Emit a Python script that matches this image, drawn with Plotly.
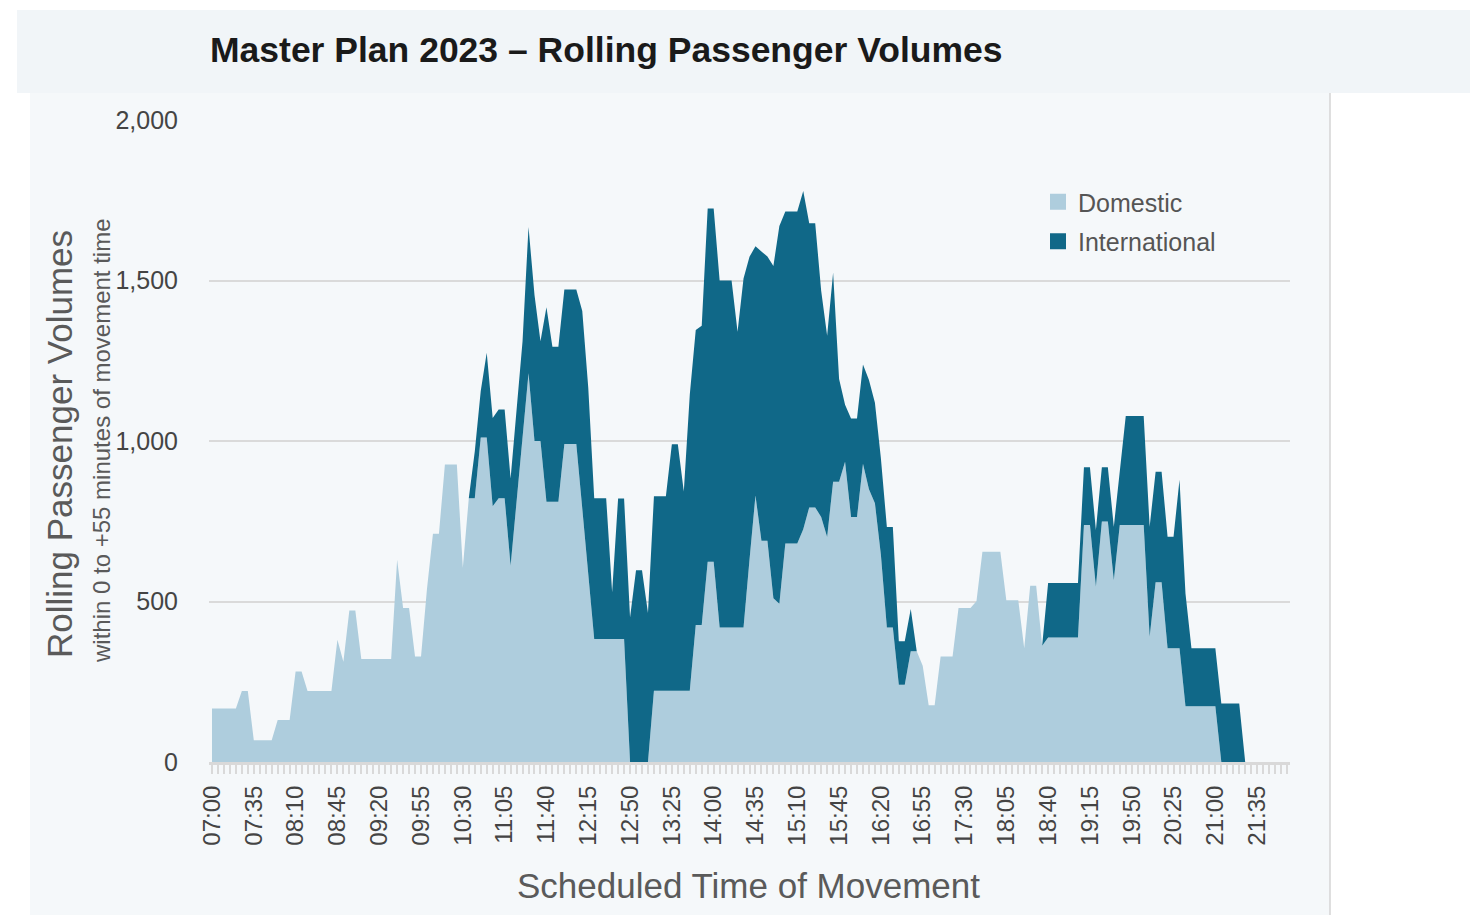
import plotly.graph_objects as go

# ---------------- data ----------------
times = [f"{h:02d}:{m:02d}" for h in range(7, 23) for m in range(0, 60, 5)][:181]  # 07:00 .. 22:00

domestic = [
    167, 167, 167, 167, 167, 221, 221, 68, 68, 68,            # 0-9
    68, 131, 131, 131, 282, 282, 221, 221, 221, 221,          # 10-19
    221, 381, 312, 472, 472, 321, 321, 321, 321, 321,         # 20-29
    321, 630, 480, 480, 329, 329, 540, 711, 711, 927,         # 30-39
    927, 927, 605, 822, 822, 1011, 1011, 797, 822, 822,       # 40-49
    611, 811, 1011, 1211, 1000, 1000, 811, 811, 811, 991,     # 50-59
    991, 991, 790, 590, 383, 383, 383, 383, 383, 383,         # 60-69
    0, 0, 0, 0, 222, 222, 222, 222, 222, 222,                 # 70-79
    222, 427, 427, 624, 624, 419, 419, 419, 419, 419,         # 80-89
    630, 830, 689, 689, 510, 493, 681, 681, 681, 725,         # 90-99
    793, 793, 763, 701, 873, 873, 935, 763, 763, 929,         # 100-109
    850, 806, 646, 419, 419, 241, 241, 345, 345, 300,         # 110-119
    177, 177, 329, 329, 329, 480, 480, 480, 501, 655,         # 120-129
    655, 655, 655, 504, 504, 504, 354, 549, 549, 362,         # 130-139
    388, 388, 388, 388, 388, 388, 738, 738, 546, 749,         # 140-149
    749, 566, 738, 738, 738, 738, 738, 390, 560, 560,         # 150-159
    354, 354, 354, 174, 174, 174, 174, 174, 174, 0,           # 160-169
    0, 0, 0, 0, 0, 0, 0, 0, 0, 0,                             # 170-179
    0,                                                        # 180
]

international = [
    0, 0, 0, 0, 0, 0, 0, 0, 0, 0,                             # 0-9
    0, 0, 0, 0, 0, 0, 0, 0, 0, 0,                             # 10-19
    0, 0, 0, 0, 0, 0, 0, 0, 0, 0,                             # 20-29
    0, 0, 0, 0, 0, 0, 0, 0, 0, 0,                             # 30-39
    0, 0, 0, 0, 145, 145, 264, 275, 276, 276,                 # 40-49
    272, 290, 300, 456, 455, 311, 606, 483, 483, 481,         # 50-59
    481, 481, 615, 577, 439, 439, 439, 146, 438, 438,         # 60-69
    450, 597, 597, 464, 606, 606, 606, 768, 768, 621,         # 70-79
    922, 919, 932, 1100, 1100, 1081, 1081, 1081, 921, 1087,   # 80-89
    944, 777, 901, 886, 1035, 1177, 1034, 1034, 1034, 1054,   # 90-99
    885, 885, 705, 627, 651, 320, 178, 307, 307, 309,         # 100-109
    340, 313, 300, 313, 313, 135, 135, 132, 0, 0,             # 110-119
    0, 0, 0, 0, 0, 0, 0, 0, 0, 0,                             # 120-129
    0, 0, 0, 0, 0, 0, 0, 0, 0, 0,                             # 130-139
    170, 170, 170, 170, 170, 170, 180, 180, 177, 169,         # 140-149
    169, 167, 168, 340, 340, 340, 340, 343, 344, 344,         # 150-159
    348, 348, 525, 351, 180, 180, 180, 180, 180, 182,         # 160-169
    182, 182, 182, 0, 0, 0, 0, 0, 0, 0,                       # 170-179
    0,                                                        # 180
]

y_ticks = [0, 500, 1000, 1500, 2000]
y_tick_labels = ["0", "500", "1,000", "1,500", "2,000"]
x_tick_labels = [t if i % 7 == 0 and i <= 175 else "" for i, t in enumerate(times)]

# ---------------- styling ----------------
LIGHT = "#AECDDD"
DARK = "#106888"
PANEL = "#F5F8FA"
BAND = "#F1F5F8"
GRID = "#DADADA"
FONT = "Liberation Sans, Arial, sans-serif"

OFF = 8                      # page (body) margin of the html page
W, H = 1476, 907             # figure size
L, R, T, B = 209, 1290, 120, 762  # plot area in page pixels


def px(xp):
    return (xp - L) / (R - L)


def py(yp):
    return (B - yp) / (B - T)


fig = go.Figure()
fig.add_trace(go.Scatter(x=times, y=domestic, name="Domestic", stackgroup="one",
                         mode="lines", line=dict(width=0, color=LIGHT),
                         fillcolor=LIGHT, showlegend=False, hoverinfo="x+y+name"))
fig.add_trace(go.Scatter(x=times, y=international, name="International", stackgroup="one",
                         mode="lines", line=dict(width=0, color=DARK),
                         fillcolor=DARK, showlegend=False, hoverinfo="x+y+name"))
# legend swatches
fig.add_trace(go.Scatter(x=[None], y=[None], mode="markers", name="Domestic", legendgroup="d",
                         marker=dict(symbol="square", size=18, color=LIGHT)))
fig.add_trace(go.Scatter(x=[None], y=[None], mode="markers", name="International", legendgroup="i",
                         marker=dict(symbol="square", size=18, color=DARK)))

shapes = [
    # title band
    dict(type="rect", xref="paper", yref="paper", x0=px(17), x1=px(1470), y0=py(93), y1=py(10),
         fillcolor=BAND, line=dict(width=0), layer="below"),
    # chart panel
    dict(type="rect", xref="paper", yref="paper", x0=px(30), x1=px(1330), y0=py(930), y1=py(93),
         fillcolor=PANEL, line=dict(width=0), layer="below"),
    # right border of panel
    dict(type="line", xref="paper", yref="paper", x0=px(1330), x1=px(1330), y0=py(930), y1=py(93),
         line=dict(color="#D4D4D4", width=1.5), layer="below"),
]

annotations = [
    dict(text="<b>Master Plan 2023 – Rolling Passenger Volumes</b>", xref="paper", yref="paper",
         x=px(208), y=py(50), xanchor="left", yanchor="middle", showarrow=False,
         font=dict(family=FONT, size=35.5, color="#1A1A1A")),
    dict(text="Rolling Passenger Volumes", xref="paper", yref="paper",
         x=px(59), y=py(444), xanchor="center", yanchor="middle", showarrow=False, textangle=-90,
         font=dict(family=FONT, size=35, color="#5A5A5A")),
    dict(text="within 0 to +55 minutes of movement time", xref="paper", yref="paper",
         x=px(101), y=py(441), xanchor="center", yanchor="middle", showarrow=False, textangle=-90,
         font=dict(family=FONT, size=24, color="#5A5A5A")),
    dict(text="Scheduled Time of Movement", xref="paper", yref="paper",
         x=px(748), y=py(885), xanchor="center", yanchor="middle", showarrow=False,
         font=dict(family=FONT, size=35, color="#5A5A5A")),
]

fig.update_layout(
    width=W, height=H,
    margin=dict(l=L - OFF, r=W - (R - OFF), t=T - OFF, b=H - (B - OFF), pad=0),
    paper_bgcolor="white",
    plot_bgcolor=PANEL,
    font=dict(family=FONT, color="#444444"),
    shapes=shapes,
    annotations=annotations,
    showlegend=True,
    legend=dict(x=px(1038), y=py(179), xanchor="left", yanchor="top",
                traceorder="grouped", tracegroupgap=4,
                bgcolor="rgba(0,0,0,0)", font=dict(family=FONT, size=25, color="#555555"),
                itemclick=False),
    hovermode="x",
)

fig.update_xaxes(
    type="category", range=[-0.5, len(times) - 0.5],
    tickmode="array", tickvals=times, ticktext=x_tick_labels,
    ticks="outside", ticklen=9, tickwidth=2, tickcolor="#D9D9D9",
    tickangle=-90, tickfont=dict(family=FONT, size=24, color="#444444"),
    showline=True, linecolor="#D9D9D9", linewidth=3,
    showgrid=False, zeroline=False, ticklabelstandoff=2,
)
fig.update_yaxes(
    range=[0, 2000], tickmode="array", tickvals=y_ticks, ticktext=y_tick_labels,
    showgrid=True, gridcolor=GRID, gridwidth=2, zeroline=False, showline=False,
    ticks="", tickfont=dict(family=FONT, size=25, color="#444444"),
    ticklabelstandoff=30,
)

fig.write_html("out.html")
